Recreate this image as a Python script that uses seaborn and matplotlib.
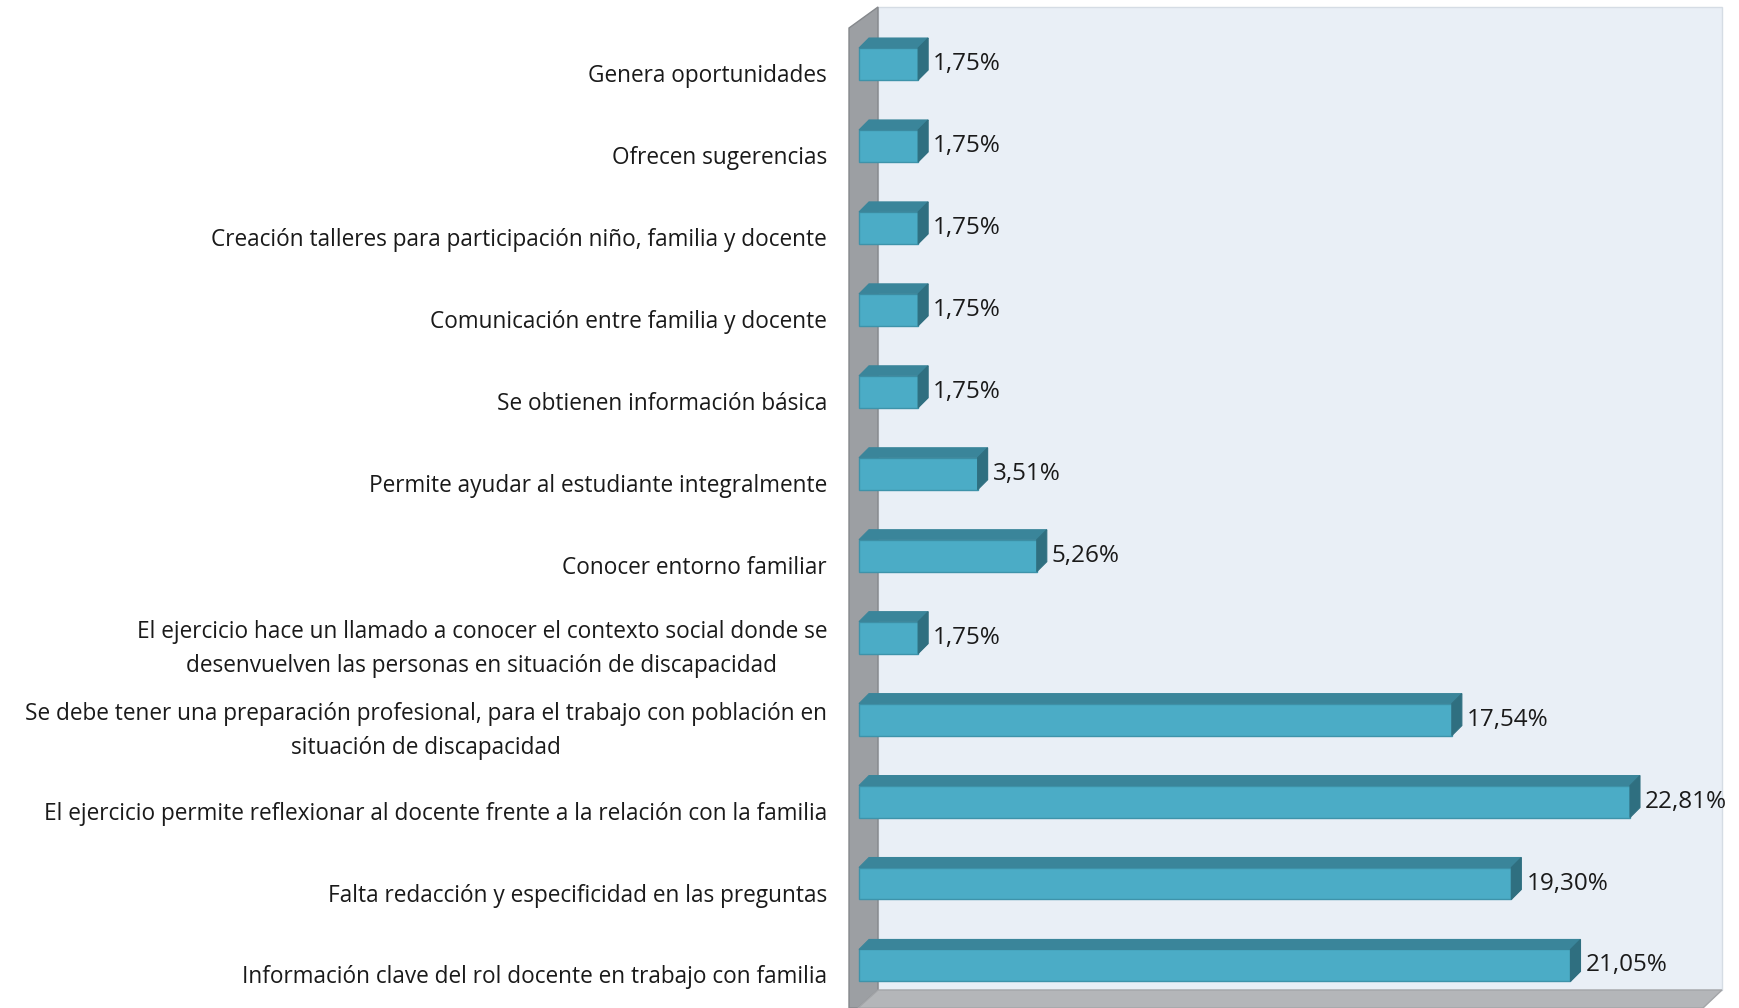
import matplotlib
matplotlib.use("Agg")
import numpy as np
import pandas as pd
import seaborn as sns
from matplotlib import pyplot as plt
from matplotlib.patches import Polygon, Rectangle
from matplotlib.transforms import ScaledTranslation

W, H = 1739, 1008

categorias = [
    "Genera oportunidades",
    "Ofrecen sugerencias",
    "Creación talleres para participación niño, familia y docente",
    "Comunicación entre familia y docente",
    "Se obtienen información básica",
    "Permite ayudar al estudiante integralmente",
    "Conocer entorno familiar",
    "El ejercicio hace un llamado a conocer el contexto social donde se\ndesenvuelven las personas en situación de discapacidad",
    "Se debe tener una preparación profesional, para el trabajo con población en\nsituación de discapacidad",
    "El ejercicio permite reflexionar al docente frente a la relación con la familia",
    "Falta redacción y especificidad en las preguntas",
    "Información clave del rol docente en trabajo con familia",
]
porcentajes = [1.75, 1.75, 1.75, 1.75, 1.75, 3.51, 5.26, 1.75, 17.54, 22.81, 19.30, 21.05]

FRONT = "#4BACC6"
TOP = "#3A859A"
SIDE = "#2F6F80"

sns.set_style("white")
plt.rcParams["font.family"] = ["Open Sans", "DejaVu Sans"]

fig = plt.figure(figsize=(W / 100, H / 100), dpi=100)

# background "3D" walls, drawn in pixel coords
bg = fig.add_axes([0, 0, 1, 1], zorder=0)
bg.set_xlim(0, W)
bg.set_ylim(H, 0)
bg.axis("off")
bg.add_patch(Rectangle((878, 7), 1722 - 878, 990 - 7, facecolor="#E9EFF6", edgecolor="#D5DCE4", lw=1))
bg.add_patch(Polygon([(849, 28), (878, 7), (878, 990), (858, 1008), (849, 1008)],
                     facecolor="#9C9FA3", edgecolor="#85888C", lw=1))
bg.add_patch(Polygon([(878, 990), (1722, 990), (1703, 1008), (858, 1008)],
                     facecolor="#B4B6B9", edgecolor="#A3A5A8", lw=1))

# main axes: front plane of the bars
ax = fig.add_axes([849 / W, 0, (1722 - 849) / W, 1], zorder=1)
ax.patch.set_alpha(0)

df = pd.DataFrame({"cat": categorias, "pct": porcentajes})
sns.barplot(data=df, x="pct", y="cat", orient="h", color=FRONT, saturation=1,
            width=0.39, edgecolor="#3E93AA", linewidth=1, ax=ax)

px_per_unit = 33.8
ax.set_xlim(-(859 - 849) / px_per_unit, (1722 - 859) / px_per_unit)
row = 81.95
ax.set_ylim((H - 64) / row, -64 / row)

for s in ax.spines.values():
    s.set_visible(False)
ax.set_xticks([])
ax.set_xlabel("")
ax.set_ylabel("")
ax.tick_params(axis="y", length=0, pad=15.8)
ax.set_yticks(range(len(categorias)))
ax.set_yticklabels(categorias, fontsize=16.3, color="#1A1A1A",
                   multialignment="center", linespacing=1.6)
for lab in ax.get_yticklabels():
    off = -0.03 if "\n" in lab.get_text() else -0.09
    lab.set_transform(lab.get_transform() + ScaledTranslation(0, off, fig.dpi_scale_trans))

# depth of the bars in data units (10 px right, 10 px up)
inv = ax.transData.inverted()
p0 = inv.transform((0, 0))
p1 = inv.transform((10, 10))
dx, dy = p1[0] - p0[0], p1[1] - p0[1]

for bar, v in zip(list(ax.patches), porcentajes):
    x0, y0 = bar.get_x(), bar.get_y()
    w, h = bar.get_width(), bar.get_height()
    ytop = min(y0, y0 + h)
    ybot = max(y0, y0 + h)
    x1 = x0 + w
    ax.add_patch(Polygon([(x0, ytop), (x1, ytop), (x1 + dx, ytop + dy), (x0 + dx, ytop + dy)],
                         facecolor=TOP, edgecolor=TOP, lw=0.8, zorder=3))
    ax.add_patch(Polygon([(x1, ytop), (x1 + dx, ytop + dy), (x1 + dx, ybot + dy), (x1, ybot)],
                         facecolor=SIDE, edgecolor=SIDE, lw=0.8, zorder=3))
    ax.text(x1 + dx + 0.15, (ytop + ybot) / 2, f"{v:.2f}".replace(".", ",") + "%",
            va="center", ha="left", fontsize=17.5, color="#1A1A1A", zorder=4)

fig.savefig("out.png", dpi=100)
